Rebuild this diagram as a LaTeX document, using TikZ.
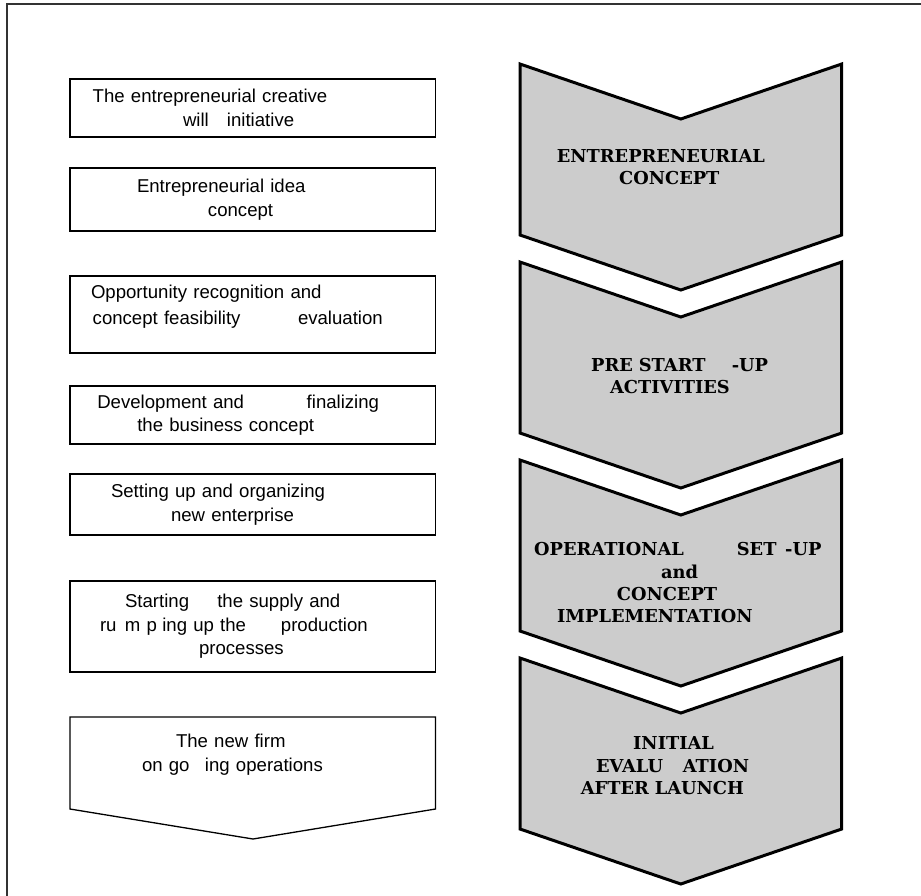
\documentclass[tikz,border=0pt]{standalone}
\usepackage{fontspec}
\setmainfont{Liberation Sans}
\newfontfamily\stagefont{DejaVu Serif}
\usetikzlibrary{positioning}
\definecolor{stagegray}{HTML}{CCCCCC}
\newcommand{\wordat}[2]{\makebox[0pt][l]{\hspace*{#1pt}#2}}
\tikzset{
  stepbox/.style={
    draw,
    line width=1.3pt,
    inner xsep=0pt,
    text width=365.5pt,
    align=left,
    font=\fontsize{18.6}{23.5}\selectfont
  },
  steptext/.style={
    inner sep=0pt,
    text width=365.5pt,
    align=left,
    font=\fontsize{18.6}{23.5}\selectfont
  },
  stage/.style={
    draw=black,
    fill=stagegray,
    line width=3pt,
    line join=miter
  },
  stagetext/.style={
    inner sep=0pt,
    text width=321.7pt,
    align=left,
    font=\stagefont\bfseries\fontsize{17.8}{22.3}\selectfont
  },
  frame/.style={
    draw=black!80,
    line width=1.5pt
  }
}

\begin{document}
\begin{tikzpicture}[x=1pt,y=-1pt]
  \useasboundingbox (0,0) rectangle (921,895);
  \draw[frame] (7,905) |- (930,4);
  % steps on the left
  \node[stepbox, minimum height=58pt] (b1) at (252.75,108)
    {\wordat{22.7}{The entrepreneurial creative}\\\wordat{113}{will}\wordat{157}{initiative}};
  \node[stepbox, minimum height=63pt] (b2) at (252.75,199.5)
    {\wordat{67}{Entrepreneurial idea}\\\wordat{138}{concept}};
  \node[stepbox, minimum height=77pt] (b3) at (252.75,314.5)
    {\wordat{21}{Opportunity recognition and}\\[3pt]\wordat{22.7}{concept feasibility}\wordat{228}{evaluation}\\[-4pt]\mbox{}};
  \node[stepbox, minimum height=58pt] (b4) at (252.75,415)
    {\wordat{27.3}{Development and}\wordat{236.7}{finalizing}\\\wordat{67.3}{the business concept}};
  \node[stepbox, minimum height=61pt] (b5) at (252.75,504.5)
    {\wordat{41}{Setting up and organizing}\\\wordat{101}{new enterprise}};
  \node[stepbox, minimum height=91pt] (b6) at (252.75,626.5)
    {\wordat{55}{Starting}\wordat{147.3}{the supply and}\\
     \wordat{30}{ru}\wordat{55}{m}\wordat{76.7}{p}\wordat{92.3}{ing up the}\wordat{211}{production}\\
     \wordat{129}{processes}\\[-20pt]\mbox{}};
  \draw[line width=1.3pt] (70,717) -- (435.5,717) -- (435.5,809) -- (253,839) -- (70,809) -- cycle;
  \node[steptext] (b7) at (252.75,754.7)
    {\wordat{106}{The new firm}\\\wordat{72}{on go}\wordat{135}{ing operations}};
  % stages on the right
  \foreach \y in {64,262,460,658}{
    \draw[stage] (520,\y) -- (680.8,\y+55) -- (841.7,\y) -- (841.7,\y+171)
      -- (680.8,\y+226) -- (520,\y+171) -- cycle;
  }
  \node[stagetext] (s1) at (680.8,166.8)
    {\wordat{36.9}{ENTREPRENEURIAL}\\\wordat{99.2}{CONCEPT}};
  \node[stagetext] (s2) at (680.8,375.7)
    {\wordat{71.2}{PRE START}\wordat{211.9}{-UP}\\\wordat{90.2}{ACTIVITIES}};
  \node[stagetext] (s3) at (680.8,582.7)
    {\wordat{14.2}{OPERATIONAL}\wordat{216.9}{SET}\wordat{265.2}{-UP}\\
     \wordat{141.2}{and}\\\wordat{96.9}{CONCEPT}\\\wordat{37.2}{IMPLEMENTATION}};
  \node[stagetext] (s4) at (680.8,765.7)
    {\wordat{113.2}{INITIAL}\\\wordat{76.2}{EVALU}\wordat{162.9}{ATION}\\\wordat{60.9}{AFTER LAUNCH}};
\end{tikzpicture}
\end{document}
